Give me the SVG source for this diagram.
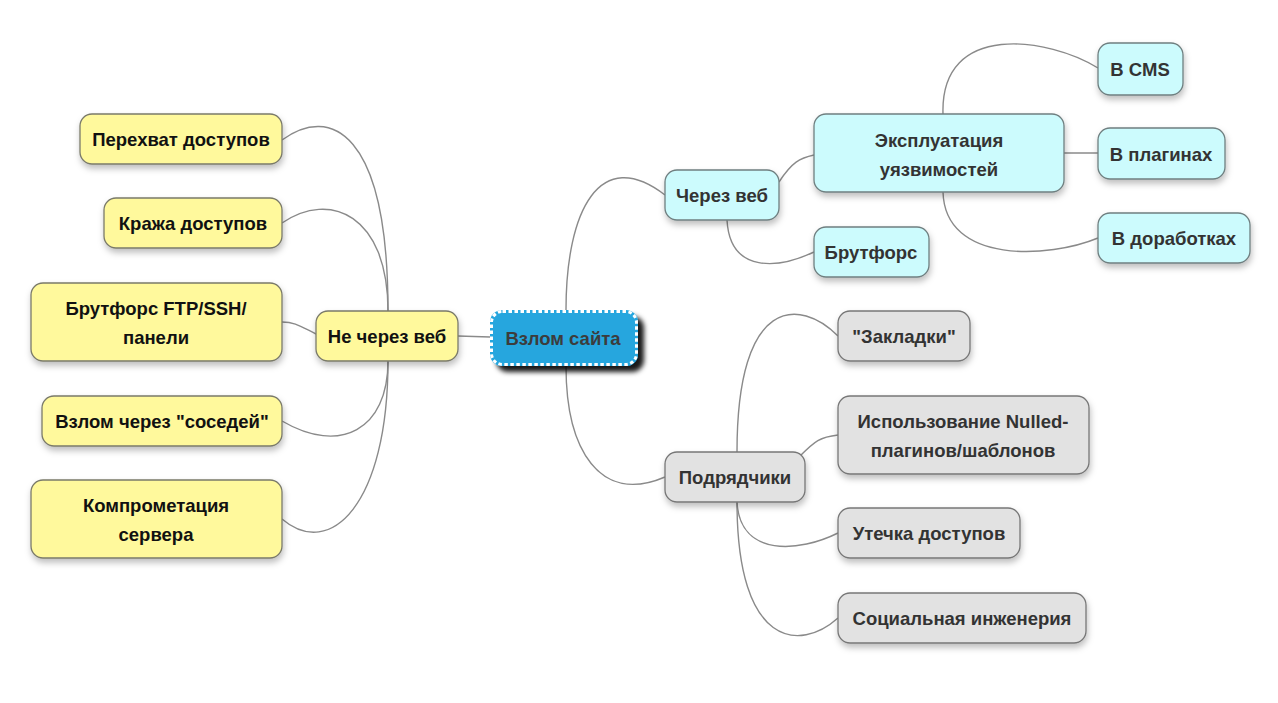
<svg xmlns="http://www.w3.org/2000/svg" width="1278" height="703" viewBox="0 0 1278 703">
<defs>
<filter id="sh" x="-20%" y="-30%" width="140%" height="170%"><feDropShadow dx="1" dy="4" stdDeviation="3" flood-color="#000" flood-opacity="0.25"/></filter>
<filter id="rsh" x="-20%" y="-30%" width="150%" height="180%"><feDropShadow dx="6" dy="6" stdDeviation="2.5" flood-color="#000" flood-opacity="0.9"/></filter>
</defs>
<style>
text{font-family:"Liberation Sans",Arial,sans-serif;font-weight:bold;font-size:18.5px;text-anchor:middle;}
.y rect{fill:#fff99c;stroke:#7a7a6a;stroke-width:1.3;filter:url(#sh);}
.y text{fill:#111;}
.c rect{fill:#ccfbfd;stroke:#6f7f80;stroke-width:1.3;filter:url(#sh);}
.c text{fill:#333;}
.g rect{fill:#e2e2e2;stroke:#777;stroke-width:1.3;filter:url(#sh);}
.g text{fill:#333;}
#links path{fill:none;stroke:#8a8a8a;stroke-width:1.4;}
</style>
<rect width="1278" height="703" fill="#fff"/>
<g id="links">
<path d="M388,311 C388,130 330,105 282,140"/>
<path d="M388,311 C388,215 330,190 282,223"/>
<path d="M316,334 C300,326 295,322 282,322"/>
<path d="M388,361 C388,430 340,455 282,421"/>
<path d="M388,361 C388,505 330,560 282,519"/>
<path d="M458,336 L490,337"/>
<path d="M566,310 C566,210 600,145 665,195"/>
<path d="M566,366 C566,450 600,505 665,477"/>
<path d="M779,182 C792,162 800,158 814,155"/>
<path d="M727,220 C730,275 780,268 814,252"/>
<path d="M943,114 C940,20 1050,38 1098,68"/>
<path d="M1064,153 L1098,153"/>
<path d="M943,192 C945,265 1050,258 1098,238"/>
<path d="M737,452 C737,295 800,298 838,336"/>
<path d="M800,456 C815,441 820,437 838,435"/>
<path d="M737,502 C740,558 800,552 838,533"/>
<path d="M737,502 C737,648 800,652 838,618"/>
</g>
<g id="root">
<rect x="490" y="310" width="148" height="56" rx="12" fill="#27a6de" filter="url(#rsh)"/>
<rect x="491.5" y="311.5" width="145" height="53" rx="11" fill="none" stroke="#fff" stroke-width="3" stroke-dasharray="3.5,2.5"/>
<text x="563" y="345" fill="#3c3c3c">Взлом сайта</text>
</g>
<g id="n-ne-cherez-veb" class="y"><rect x="316" y="311" width="142" height="50" rx="12"/><text x="387" y="343">Не через веб</text></g>
<g id="n-perehvat" class="y"><rect x="80" y="114" width="202" height="50" rx="12"/><text x="181" y="146">Перехват доступов</text></g>
<g id="n-krazha" class="y"><rect x="104" y="198" width="178" height="50" rx="12"/><text x="193" y="230">Кража доступов</text></g>
<g id="n-brute-ftp" class="y"><rect x="31" y="283" width="251" height="78" rx="12"/><text x="156" y="315">Брутфорс FTP/SSH/</text><text x="156" y="344">панели</text></g>
<g id="n-sosedi" class="y"><rect x="42" y="396" width="240" height="50" rx="12"/><text x="162" y="428">Взлом через "соседей"</text></g>
<g id="n-server" class="y"><rect x="31" y="480" width="251" height="78" rx="12"/><text x="156" y="512">Компрометация</text><text x="156" y="541">сервера</text></g>
<g id="n-cherez-veb" class="c"><rect x="665" y="170" width="114" height="50" rx="12"/><text x="722" y="202">Через веб</text></g>
<g id="n-expl" class="c"><rect x="814" y="114" width="250" height="78" rx="12"/><text x="939" y="147">Эксплуатация</text><text x="939" y="176">уязвимостей</text></g>
<g id="n-brute" class="c"><rect x="814" y="227" width="115" height="50" rx="12"/><text x="871" y="259">Брутфорс</text></g>
<g id="n-cms" class="c"><rect x="1098" y="43" width="85" height="52" rx="12"/><text x="1140" y="76">В CMS</text></g>
<g id="n-plugins" class="c"><rect x="1098" y="128" width="127" height="51" rx="12"/><text x="1161" y="161">В плагинах</text></g>
<g id="n-dorab" class="c"><rect x="1098" y="213" width="152" height="50" rx="12"/><text x="1174" y="245">В доработках</text></g>
<g id="n-podr" class="g"><rect x="665" y="452" width="140" height="50" rx="12"/><text x="735" y="484">Подрядчики</text></g>
<g id="n-zakl" class="g"><rect x="838" y="311" width="132" height="50" rx="12"/><text x="904" y="343">"Закладки"</text></g>
<g id="n-nulled" class="g"><rect x="838" y="396" width="251" height="78" rx="12"/><text x="963" y="428">Использование Nulled-</text><text x="963" y="457">плагинов/шаблонов</text></g>
<g id="n-utechka" class="g"><rect x="838" y="508" width="182" height="50" rx="12"/><text x="929" y="540">Утечка доступов</text></g>
<g id="n-social" class="g"><rect x="838" y="593" width="248" height="50" rx="12"/><text x="962" y="625">Социальная инженерия</text></g>
</svg>
